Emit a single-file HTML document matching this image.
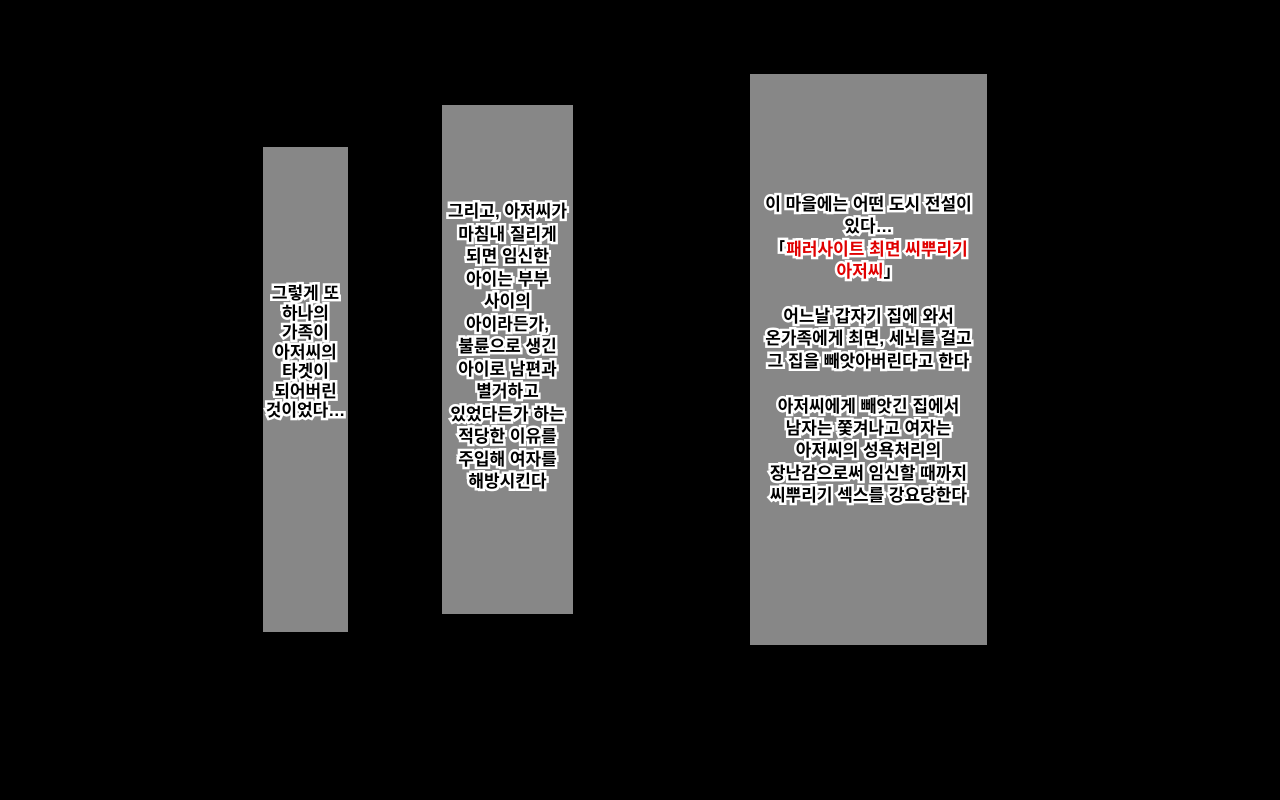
<!DOCTYPE html>
<html><head><meta charset="utf-8"><style>
body{margin:0;width:1280px;height:800px;background:#000;position:relative;overflow:hidden}
.b{position:absolute;background:#878787}
.t{position:absolute;left:0;right:0;text-align:center;font-family:"Liberation Sans","Noto Sans CJK KR","NanumGothic",sans-serif;font-weight:bold;font-size:17px;color:#000;-webkit-text-stroke:5px #fff;paint-order:stroke fill;white-space:nowrap}
.r{color:#e00000}
</style></head><body>
<div class="b" style="left:263px;top:147px;width:85px;height:485px">
<div class="t" style="top:137px;line-height:19.5px">그렇게 또<br>하나의<br>가족이<br>아저씨의<br>타겟이<br>되어버린<br>것이었다…</div></div>
<div class="b" style="left:442px;top:105px;width:131px;height:509px">
<div class="t" style="top:96px;line-height:22.5px">그리고, 아저씨가<br>마침내 질리게<br>되면 임신한<br>아이는 부부<br>사이의<br>아이라든가,<br>불륜으로 생긴<br>아이로 남편과<br>별거하고<br>있었다든가 하는<br>적당한 이유를<br>주입해 여자를<br>해방시킨다</div></div>
<div class="b" style="left:750px;top:74px;width:237px;height:571px">
<div class="t" style="top:120px;line-height:22.4px">이 마을에는 어떤 도시 전설이<br>있다…<br>「<span class="r">패러사이트 최면 씨뿌리기<br>아저씨</span>」<br><br>어느날 갑자기 집에 와서<br>온가족에게 최면, 세뇌를 걸고<br>그 집을 빼앗아버린다고 한다<br><br>아저씨에게 빼앗긴 집에서<br>남자는 쫓겨나고 여자는<br>아저씨의 성욕처리의<br>장난감으로써 임신할 때까지<br>씨뿌리기 섹스를 강요당한다</div></div>
</body></html>
